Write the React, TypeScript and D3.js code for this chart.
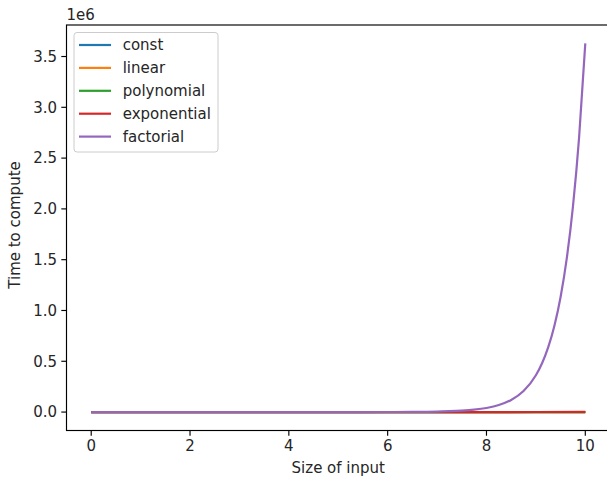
import React from "react";
import * as d3 from "d3";

const intX = [0, 1, 2, 3, 4, 5, 6, 7, 8, 9, 10];
const constVals = [1, 1, 1, 1, 1, 1, 1, 1, 1, 1, 1];
const linearVals = [0, 1, 2, 3, 4, 5, 6, 7, 8, 9, 10];
const polyVals = [0, 1, 4, 9, 16, 25, 36, 49, 64, 81, 100];
const expVals = [1, 2, 4, 8, 16, 32, 64, 128, 256, 512, 1024];

const factX = [0, 0.5, 1, 1.5, 2, 2.5, 3, 3.5, 4, 4.5, 5, 5.5, 6, 6.5, 7, 7.25, 7.5, 7.75, 8, 8.25, 8.5, 8.75, 9, 9.125, 9.25, 9.375, 9.5, 9.625, 9.75, 9.875, 10];
const factVals = [1, 0.886, 1, 1.329, 2, 3.323, 6, 11.63, 24, 52.34, 120, 287.9, 720, 1871, 5040, 8377, 14034, 23699, 40320, 69107, 119292, 207366, 362880, 481226, 639240, 850470, 1133278, 1512540, 2021819, 2706395, 3628800];

const xTicks = [0, 2, 4, 6, 8, 10];
const yTicks = [0, 0.5, 1.0, 1.5, 2.0, 2.5, 3.0, 3.5];
const seriesNames = ["const", "linear", "polynomial", "exponential", "factorial"];
const colors = ["#1f77b4", "#ff7f0e", "#2ca02c", "#d62728", "#9467bd"];

export default function App() {
  const left = 66.5, right = 610, top = 25, bottom = 430.5;
  const x = d3.scaleLinear().domain([-0.5, 10.5]).range([left, right]);
  const y = d3.scaleLinear().domain([-181440, 3810240]).range([bottom, top]);
  const font = "'DejaVu Sans', sans-serif";
  const fs = 15;

  const series = [
    { xs: intX, ys: constVals },
    { xs: intX, ys: linearVals },
    { xs: intX, ys: polyVals },
    { xs: intX, ys: expVals },
    { xs: factX, ys: factVals },
  ];
  const line = d3
    .line<[number, number]>()
    .x((d) => x(d[0]))
    .y((d) => y(d[1]))
    .curve(d3.curveMonotoneX);

  return (
    <svg
      width={607}
      height={477}
      style={{ position: "fixed", left: 0, top: 0, background: "#fff" }}
      fontFamily={font}
    >
      <rect x={0} y={0} width={607} height={477} fill="#fff" />
      <defs>
        <clipPath id="plotclip">
          <rect x={left} y={top} width={right - left} height={bottom - top} />
        </clipPath>
      </defs>
      <g clipPath="url(#plotclip)">
        {series.map((s, i) => (
          <path
            key={i}
            d={line(s.xs.map((v, j) => [v, s.ys[j]] as [number, number])) || ""}
            fill="none"
            stroke={colors[i]}
            strokeWidth={2.2}
            strokeLinejoin="round"
            strokeLinecap="butt"
          />
        ))}
      </g>
      {/* spines */}
      <rect x={left} y={top} width={right - left} height={bottom - top} fill="none" stroke="#000" strokeWidth={1.15} />
      {/* x ticks */}
      {xTicks.map((t) => (
        <g key={"x" + t}>
          <line x1={x(t)} x2={x(t)} y1={bottom} y2={bottom + 5.2} stroke="#000" strokeWidth={1.15} />
          <text x={x(t)} y={bottom + 8.5} dy="0.8em" textAnchor="middle" fontSize={fs} fill="#262626">
            {t}
          </text>
        </g>
      ))}
      {/* y ticks */}
      {yTicks.map((t) => (
        <g key={"y" + t}>
          <line x1={left} x2={left - 5.2} y1={y(t * 1e6)} y2={y(t * 1e6)} stroke="#000" strokeWidth={1.15} />
          <text x={left - 9.5} y={y(t * 1e6)} dy="0.35em" textAnchor="end" fontSize={fs} fill="#262626">
            {t.toFixed(1)}
          </text>
        </g>
      ))}
      <text x={left} y={top - 5} fontSize={fs} fill="#262626">
        1e6
      </text>
      <text x={(left + right) / 2} y={473} textAnchor="middle" fontSize={fs} fill="#262626">
        Size of input
      </text>
      <text
        transform={`translate(20,225) rotate(-90)`}
        textAnchor="middle"
        fontSize={fs}
        fill="#262626"
      >
        Time to compute
      </text>
      {/* legend */}
      <rect x={74} y={32.5} width={144} height={119.5} rx={3} fill="#fff" fillOpacity={0.8} stroke="#cccccc" strokeWidth={1} />
      {seriesNames.map((n, i) => {
        const cy = 45 + i * 22.9;
        return (
          <g key={n}>
            <line x1={79} x2={111} y1={cy} y2={cy} stroke={colors[i]} strokeWidth={2.2} />
            <text x={122.7} y={cy} dy="0.35em" fontSize={fs} fill="#262626">
              {n}
            </text>
          </g>
        );
      })}
    </svg>
  );
}
